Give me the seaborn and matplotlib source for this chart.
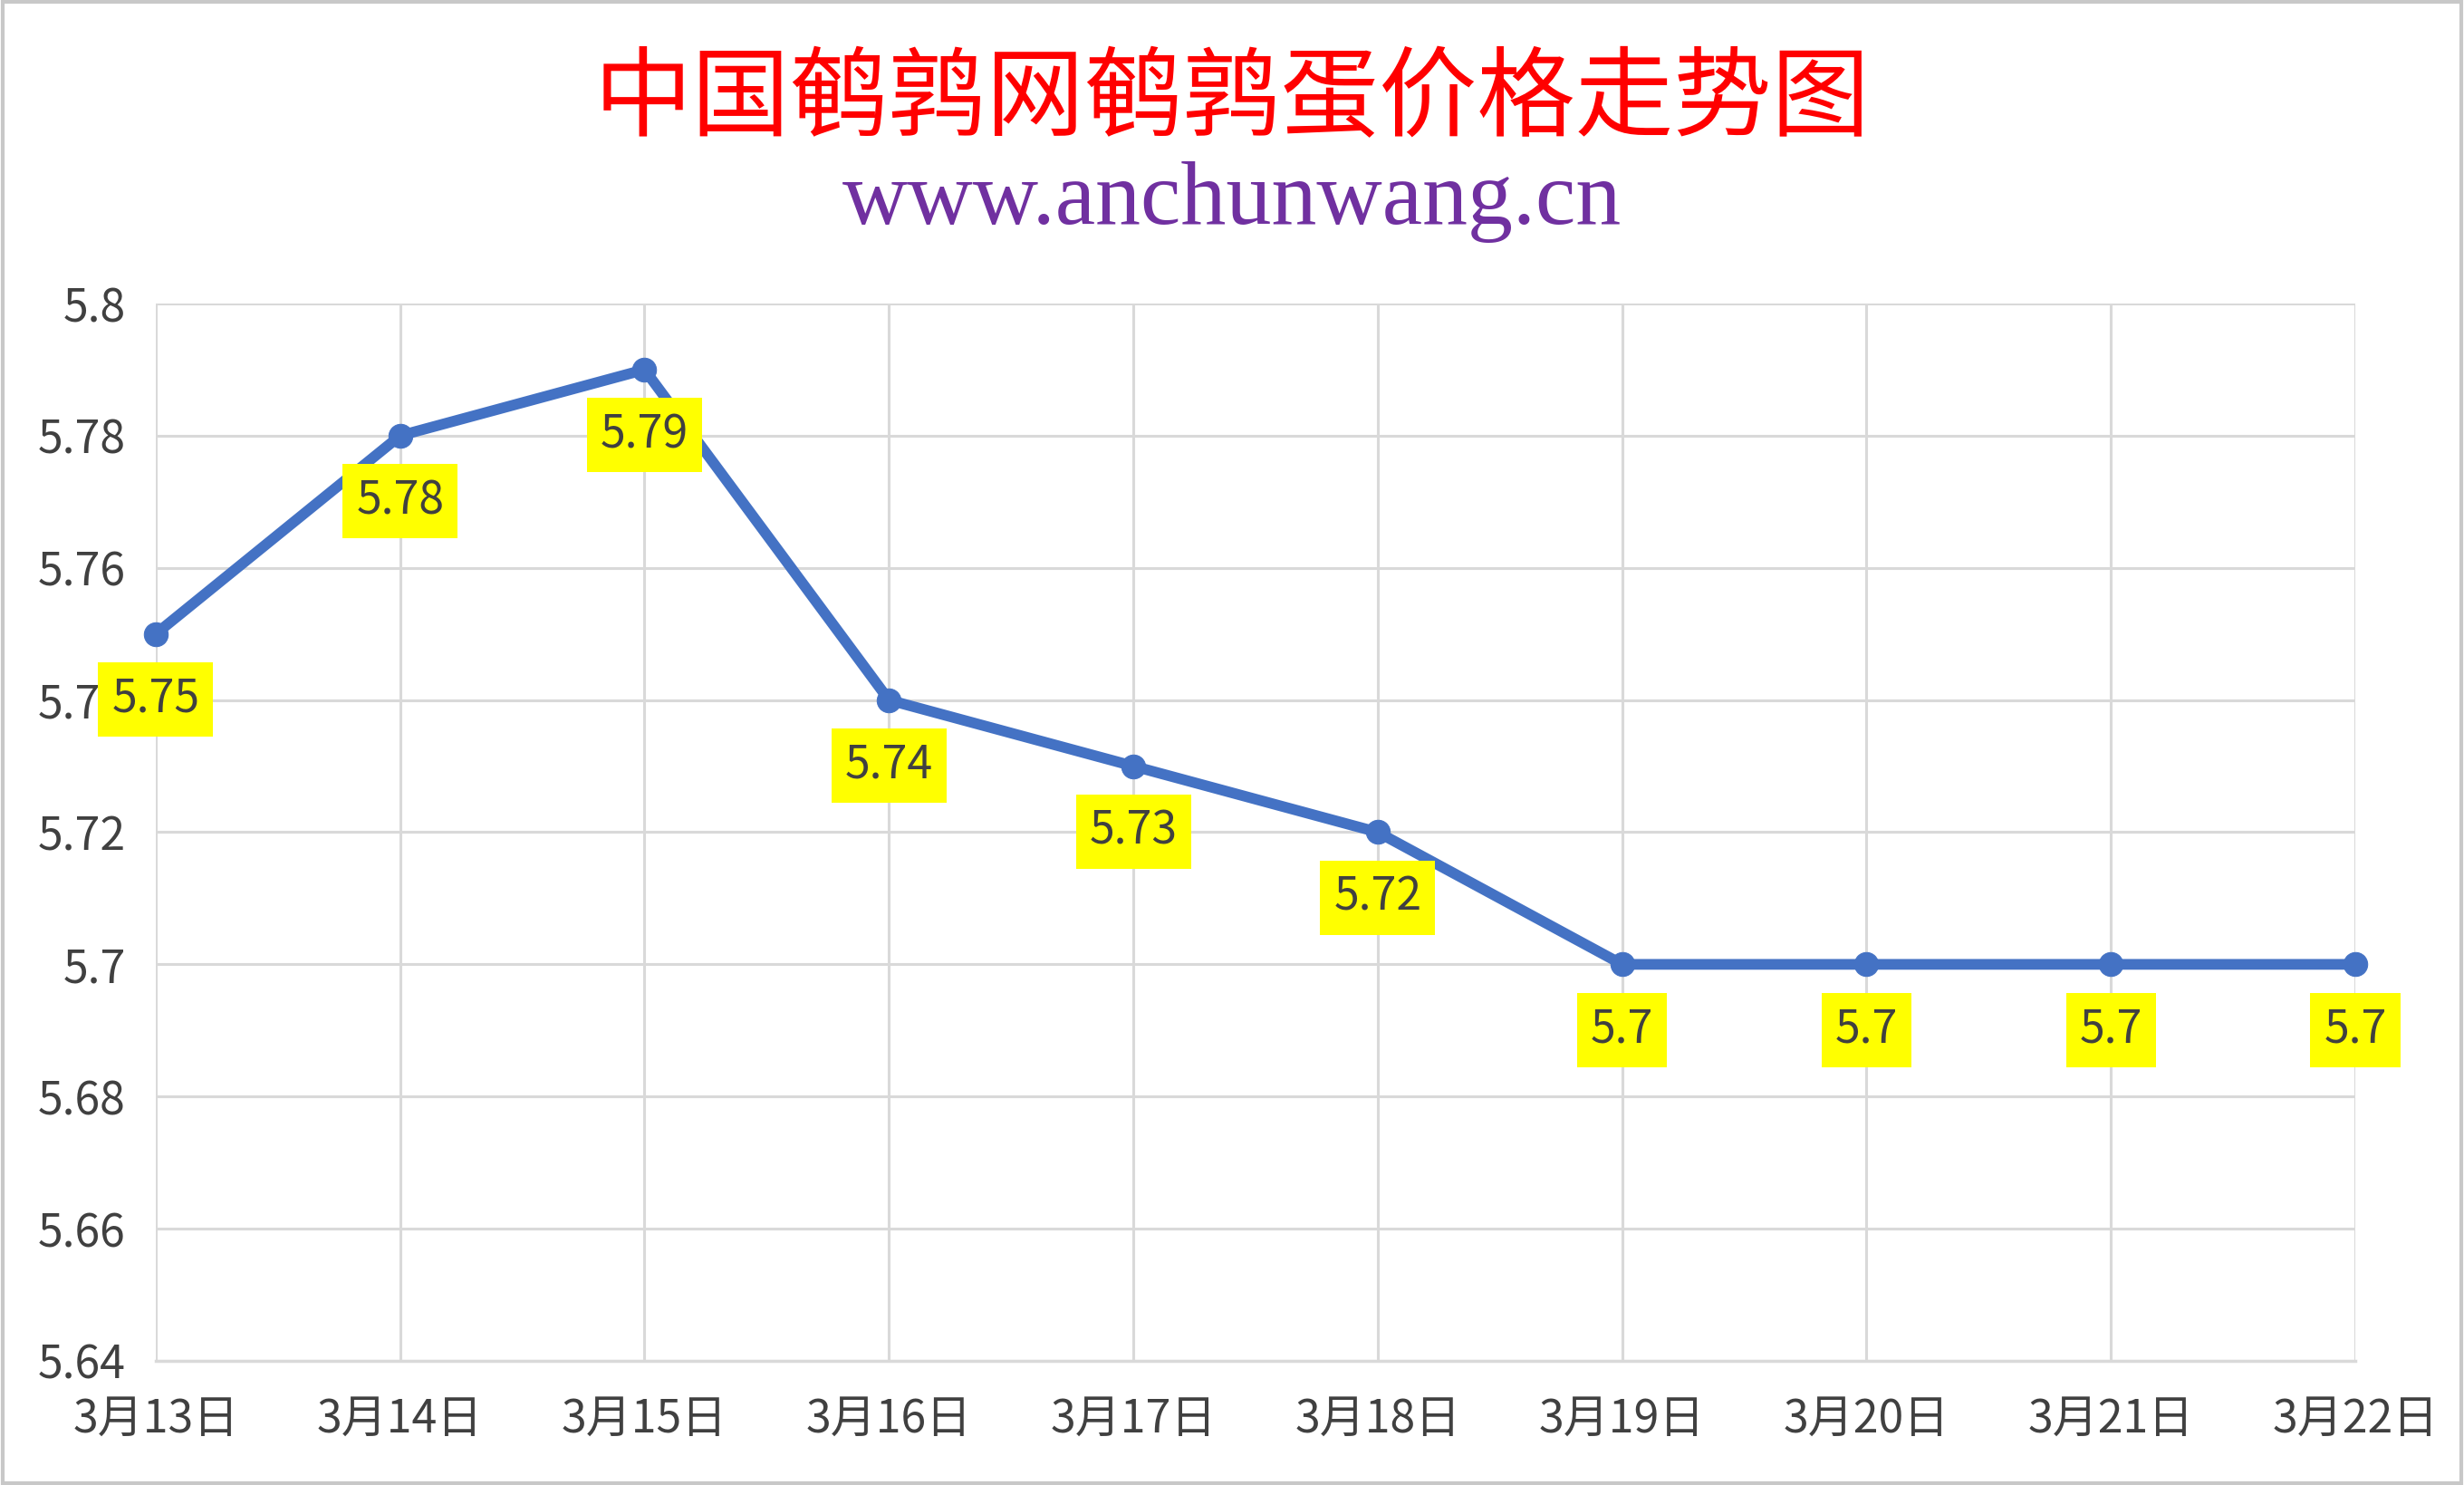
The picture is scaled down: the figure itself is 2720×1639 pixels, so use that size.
import matplotlib
matplotlib.use("Agg")
import matplotlib.pyplot as plt
import seaborn as sns
import pandas as pd
from matplotlib.patches import Rectangle

dates = ["3月13日", "3月14日", "3月15日", "3月16日", "3月17日",
         "3月18日", "3月19日", "3月20日", "3月21日", "3月22日"]
prices = [5.75, 5.78, 5.79, 5.74, 5.73, 5.72, 5.70, 5.70, 5.70, 5.70]
y_ticks = [5.64, 5.66, 5.68, 5.70, 5.72, 5.74, 5.76, 5.78, 5.80]
y_tick_labels = ["5.64", "5.66", "5.68", "5.7", "5.72", "5.74", "5.76", "5.78", "5.8"]

title_text = "中国鹌鹑网鹌鹑蛋价格走势图"
subtitle_text = "www.anchunwang.cn"

sns.set_theme(style="white")
plt.rcParams['font.family'] = ['Noto Sans CJK SC', 'DejaVu Sans']

df = pd.DataFrame({"idx": list(range(len(dates))), "price": prices})

fig = plt.figure(figsize=(27.2, 16.39), dpi=100)
ax = fig.add_axes([0.0632, 0.0836, 0.8927, 0.712])

sns.lineplot(data=df, x="idx", y="price", ax=ax, color="#4472C4",
             linewidth=8.5, marker="o", markersize=19,
             markeredgecolor="#4472C4", markerfacecolor="#4472C4", zorder=5)
for ln in ax.lines:
    ln.set_clip_on(False)

ax.set_xlim(0, len(dates) - 1)
ax.set_ylim(5.64, 5.80)
ax.set_xticks(range(len(dates)))
ax.set_xticklabels(dates)
ax.set_yticks(y_ticks)
ax.set_yticklabels(y_tick_labels)
ax.set_xlabel("")
ax.set_ylabel("")

ax.grid(True, color="#d9d9d9", linewidth=2.2)
ax.set_axisbelow(True)
for side in ["top", "right", "left"]:
    ax.spines[side].set_visible(False)
ax.spines["bottom"].set_color("#d9d9d9")
ax.spines["bottom"].set_linewidth(2.5)

ax.tick_params(axis="y", labelsize=36, labelcolor="#404040", length=0, pad=24)
ax.tick_params(axis="x", labelsize=36, labelcolor="#404040", length=0, pad=28)

for i, v in enumerate(prices):
    ax.annotate(f"{v:g}", (i, v), xytext=(0, -52), textcoords="offset points",
                ha="center", va="center", fontsize=36, color="#404040",
                bbox=dict(boxstyle="square,pad=0.3", fc="#FFFF00", ec="none"),
                zorder=6)

fig.text(0.5, 0.932, title_text, ha="center", va="center", fontsize=78,
         color="#FF0000", family=['Noto Sans CJK SC', 'DejaVu Sans'])
fig.text(0.5, 0.864, subtitle_text, ha="center", va="center", fontsize=72,
         color="#7030A0", family=['Liberation Serif', 'DejaVu Serif'])

fig.patches.append(Rectangle((0.001, 0.001), 0.998, 0.998, transform=fig.transFigure,
                             fill=False, edgecolor="#c8c8c8", linewidth=3))

fig.savefig("out.png", dpi=100, facecolor="white")
